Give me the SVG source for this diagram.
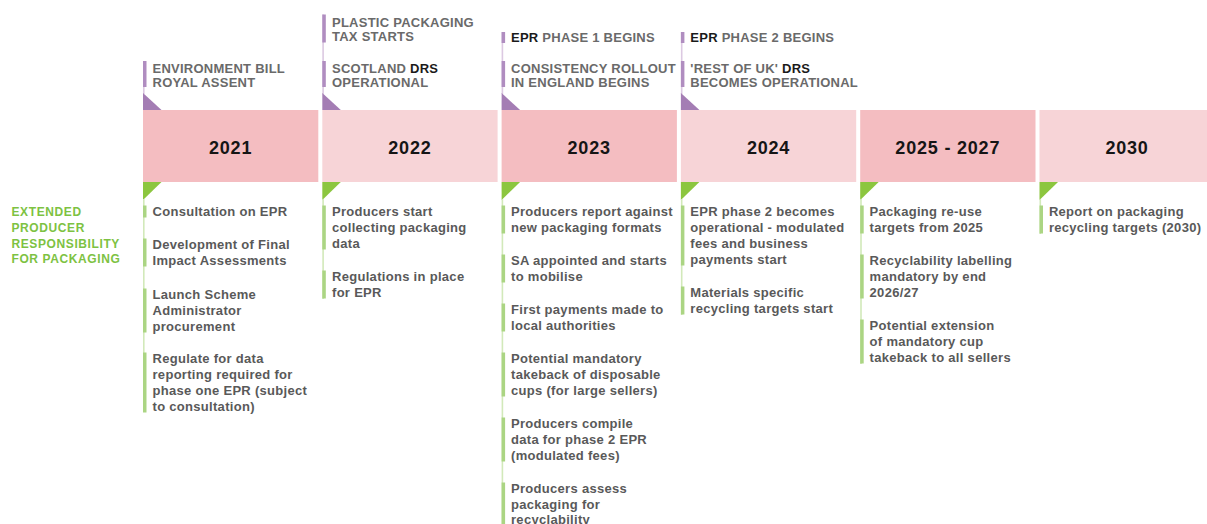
<svg xmlns="http://www.w3.org/2000/svg" width="1207" height="524" viewBox="0 0 1207 524">
<style>
.bg{fill:#ffffff}
.boxA{fill:#F4BDC1}
.boxB{fill:#F7D4D7}
.year{font-family:"Liberation Sans",Arial,sans-serif;font-weight:bold;font-size:18px;letter-spacing:0.8px;fill:#151515;text-anchor:middle}
.head{font-family:"Liberation Sans",Arial,sans-serif;font-weight:bold;font-size:13px;letter-spacing:0.25px;fill:#6a6a6a}
.head .k{fill:#1a1a1a}
.item{font-family:"Liberation Sans",Arial,sans-serif;font-weight:bold;font-size:13px;letter-spacing:0.3px;fill:#595959}
.side{font-family:"Liberation Sans",Arial,sans-serif;font-weight:bold;font-size:12px;letter-spacing:0.6px;fill:#7DC242}
.pthin{fill:#DCC9E2}
.pbar{fill:#B08DC0}
.ptri{fill:#A47DB4}
.gthin{fill:#D2E9BA}
.gbar{fill:#ABD583}
.gtri{fill:#8CC63F}
</style>
<rect class="bg" x="0" y="0" width="1207" height="524"/>

<g id="connectors">
  <rect class="pthin" x="143" y="61" width="1.6" height="33"/>
  <rect class="pbar" x="143" y="61" width="3.5" height="26"/>
  <polygon class="ptri" points="143,93 143,110 161.5,110"/>

  <rect class="pthin" x="322.3" y="14.5" width="1.6" height="80"/>
  <rect class="pbar" x="322.3" y="14.5" width="3.5" height="28"/>
  <rect class="pbar" x="322.3" y="61" width="3.5" height="26"/>
  <polygon class="ptri" points="322.3,93 322.3,110 340.8,110"/>

  <rect class="pthin" x="501.6" y="32" width="1.6" height="62"/>
  <rect class="pbar" x="501.6" y="32" width="3.5" height="11"/>
  <rect class="pbar" x="501.6" y="61" width="3.5" height="26"/>
  <polygon class="ptri" points="501.6,93 501.6,110 520.1,110"/>

  <rect class="pthin" x="680.9" y="32" width="1.6" height="62"/>
  <rect class="pbar" x="680.9" y="32" width="3.5" height="11"/>
  <rect class="pbar" x="680.9" y="61" width="3.5" height="26"/>
  <polygon class="ptri" points="680.9,93 680.9,110 699.4,110"/>

  <polygon class="gtri" points="143,182 161.5,182 143,200"/>
  <rect class="gthin" x="143" y="199" width="1.6" height="213"/>
  <rect class="gbar" x="143" y="205.5" width="3.5" height="12"/>
  <rect class="gbar" x="143" y="238.5" width="3.5" height="28"/>
  <rect class="gbar" x="143" y="288.5" width="3.5" height="44"/>
  <rect class="gbar" x="143" y="352.5" width="3.5" height="60"/>

  <polygon class="gtri" points="322.3,182 340.8,182 322.3,200"/>
  <rect class="gthin" x="322.3" y="199" width="1.6" height="100"/>
  <rect class="gbar" x="322.3" y="205.5" width="3.5" height="44"/>
  <rect class="gbar" x="322.3" y="270.5" width="3.5" height="28"/>

  <polygon class="gtri" points="501.6,182 520.1,182 501.6,200"/>
  <rect class="gthin" x="501.6" y="199" width="1.6" height="325"/>
  <rect class="gbar" x="501.6" y="205.5" width="3.5" height="28"/>
  <rect class="gbar" x="501.6" y="254.5" width="3.5" height="28"/>
  <rect class="gbar" x="501.6" y="303.5" width="3.5" height="28"/>
  <rect class="gbar" x="501.6" y="352.5" width="3.5" height="44"/>
  <rect class="gbar" x="501.6" y="417.5" width="3.5" height="44"/>
  <rect class="gbar" x="501.6" y="482.5" width="3.5" height="44"/>

  <polygon class="gtri" points="680.9,182 699.4,182 680.9,200"/>
  <rect class="gthin" x="680.9" y="199" width="1.6" height="116"/>
  <rect class="gbar" x="680.9" y="205.5" width="3.5" height="60"/>
  <rect class="gbar" x="680.9" y="286.5" width="3.5" height="28"/>

  <polygon class="gtri" points="860.2,182 878.7,182 860.2,200"/>
  <rect class="gthin" x="860.2" y="199" width="1.6" height="165"/>
  <rect class="gbar" x="860.2" y="205.5" width="3.5" height="28"/>
  <rect class="gbar" x="860.2" y="254.5" width="3.5" height="44"/>
  <rect class="gbar" x="860.2" y="319.5" width="3.5" height="44"/>

  <polygon class="gtri" points="1039.5,182 1058,182 1039.5,200"/>
  <rect class="gthin" x="1039.5" y="199" width="1.6" height="35"/>
  <rect class="gbar" x="1039.5" y="205.5" width="3.5" height="28"/>
</g>

<g id="label-epr">
  <text class="side" x="11.5" y="216">EXTENDED</text>
  <text class="side" x="11.5" y="232">PRODUCER</text>
  <text class="side" x="11.5" y="247.5">RESPONSIBILITY</text>
  <text class="side" x="11.5" y="263">FOR PACKAGING</text>
</g>

<g id="node-2021">
  <rect class="boxA" x="143" y="110" width="175.3" height="72"/>
  <text class="year" x="230.6" y="154">2021</text>
  <text class="head" x="152.5" y="72.5">ENVIRONMENT BILL</text>
  <text class="head" x="152.5" y="86.5">ROYAL ASSENT</text>
  <text class="item" x="152.5" y="216">Consultation on EPR</text>
  <text class="item" x="152.5" y="249">Development of Final</text>
  <text class="item" x="152.5" y="265">Impact Assessments</text>
  <text class="item" x="152.5" y="299">Launch Scheme</text>
  <text class="item" x="152.5" y="315">Administrator</text>
  <text class="item" x="152.5" y="331">procurement</text>
  <text class="item" x="152.5" y="363">Regulate for data</text>
  <text class="item" x="152.5" y="379">reporting required for</text>
  <text class="item" x="152.5" y="395">phase one EPR (subject</text>
  <text class="item" x="152.5" y="411">to consultation)</text>
</g>

<g id="node-2022">
  <rect class="boxB" x="322.3" y="110" width="175.3" height="72"/>
  <text class="year" x="409.9" y="154">2022</text>
  <text class="head" x="332" y="26.5">PLASTIC PACKAGING</text>
  <text class="head" x="332" y="40.5">TAX STARTS</text>
  <text class="head" x="332" y="72.5">SCOTLAND <tspan class="k">DRS</tspan></text>
  <text class="head" x="332" y="86.5">OPERATIONAL</text>
  <text class="item" x="332" y="216">Producers start</text>
  <text class="item" x="332" y="232">collecting packaging</text>
  <text class="item" x="332" y="248">data</text>
  <text class="item" x="332" y="281">Regulations in place</text>
  <text class="item" x="332" y="297">for EPR</text>
</g>

<g id="node-2023">
  <rect class="boxA" x="501.6" y="110" width="175.3" height="72"/>
  <text class="year" x="589.2" y="154">2023</text>
  <text class="head" x="511" y="42"><tspan class="k">EPR</tspan> PHASE 1 BEGINS</text>
  <text class="head" x="511" y="72.5">CONSISTENCY ROLLOUT</text>
  <text class="head" x="511" y="86.5">IN ENGLAND BEGINS</text>
  <text class="item" x="511" y="216">Producers report against</text>
  <text class="item" x="511" y="232">new packaging formats</text>
  <text class="item" x="511" y="265">SA appointed and starts</text>
  <text class="item" x="511" y="281">to mobilise</text>
  <text class="item" x="511" y="314">First payments made to</text>
  <text class="item" x="511" y="330">local authorities</text>
  <text class="item" x="511" y="363">Potential mandatory</text>
  <text class="item" x="511" y="379">takeback of disposable</text>
  <text class="item" x="511" y="395">cups (for large sellers)</text>
  <text class="item" x="511" y="428">Producers compile</text>
  <text class="item" x="511" y="444">data for phase 2 EPR</text>
  <text class="item" x="511" y="460">(modulated fees)</text>
  <text class="item" x="511" y="493">Producers assess</text>
  <text class="item" x="511" y="509">packaging for</text>
  <text class="item" x="511" y="524">recyclability</text>
</g>

<g id="node-2024">
  <rect class="boxB" x="680.9" y="110" width="175.3" height="72"/>
  <text class="year" x="768.5" y="154">2024</text>
  <text class="head" x="690.3" y="42"><tspan class="k">EPR</tspan> PHASE 2 BEGINS</text>
  <text class="head" x="690.3" y="72.5">'REST OF UK' <tspan class="k">DRS</tspan></text>
  <text class="head" x="690.3" y="86.5">BECOMES OPERATIONAL</text>
  <text class="item" x="690.3" y="216">EPR phase 2 becomes</text>
  <text class="item" x="690.3" y="232">operational - modulated</text>
  <text class="item" x="690.3" y="248">fees and business</text>
  <text class="item" x="690.3" y="264">payments start</text>
  <text class="item" x="690.3" y="297">Materials specific</text>
  <text class="item" x="690.3" y="313">recycling targets start</text>
</g>

<g id="node-2025-2027">
  <rect class="boxA" x="860.2" y="110" width="175.3" height="72"/>
  <text class="year" x="947.8" y="154">2025 - 2027</text>
  <text class="item" x="869.6" y="216">Packaging re-use</text>
  <text class="item" x="869.6" y="232">targets from 2025</text>
  <text class="item" x="869.6" y="265">Recyclability labelling</text>
  <text class="item" x="869.6" y="281">mandatory by end</text>
  <text class="item" x="869.6" y="297">2026/27</text>
  <text class="item" x="869.6" y="330">Potential extension</text>
  <text class="item" x="869.6" y="346">of mandatory cup</text>
  <text class="item" x="869.6" y="362">takeback to all sellers</text>
</g>

<g id="node-2030">
  <rect class="boxB" x="1039.5" y="110" width="175.3" height="72"/>
  <text class="year" x="1127" y="154">2030</text>
  <text class="item" x="1048.9" y="216">Report on packaging</text>
  <text class="item" x="1048.9" y="232">recycling targets (2030)</text>
</g>
</svg>
